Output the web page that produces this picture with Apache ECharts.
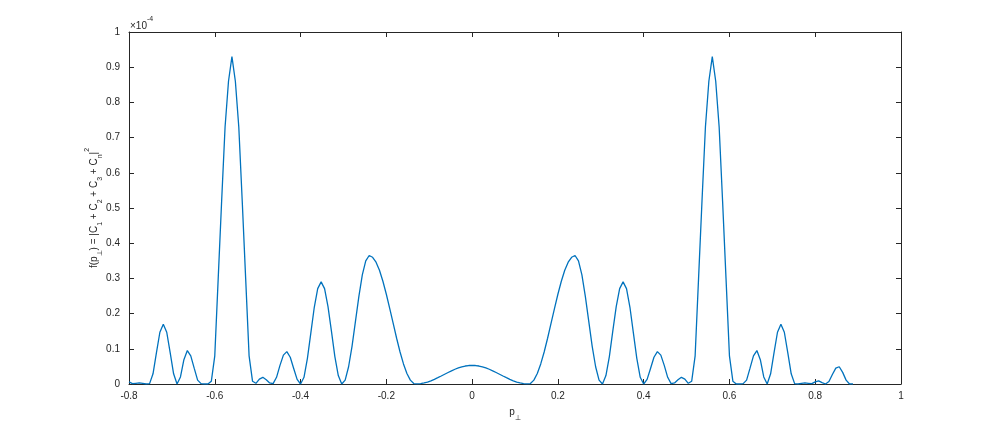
<!DOCTYPE html>
<html>
<head>
<meta charset="utf-8">
<script src="https://cdn.jsdelivr.net/npm/echarts@6/dist/echarts.min.js"></script>
<style>
  html, body { margin: 0; padding: 0; background: #fff; }
  #chart { width: 996px; height: 432px; }
</style>
</head>
<body>
<div id="chart"></div>
<script>
  // sampling of p_perp: p = pStart + i * pStep
  const pStart = -0.8
  const pStep = 0.008

  // f(p) in units of 1e-4, p from -0.800 to -0.008
  const fNegative = [
    0.006, 0.001, 0.002, 0.003, 0.002, 0.000, 0.001, 0.029, 0.089, 0.147,
    0.170, 0.147, 0.089, 0.029, 0.000, 0.020, 0.069, 0.095, 0.080, 0.045,
    0.011, 0.001, 0.000, 0.000, 0.008, 0.080, 0.300, 0.520, 0.730, 0.860,
    0.930, 0.860, 0.730, 0.520, 0.300, 0.080, 0.008, 0.002, 0.014, 0.019,
    0.012, 0.003, 0.001, 0.019, 0.053, 0.082, 0.092, 0.076, 0.044, 0.013,
    0.000, 0.019, 0.073, 0.145, 0.218, 0.271, 0.290, 0.271, 0.220, 0.150,
    0.078, 0.024, 0.000, 0.011, 0.049, 0.107, 0.178, 0.249, 0.310, 0.350,
    0.365, 0.360, 0.346, 0.323, 0.292, 0.255, 0.214, 0.172, 0.130, 0.091,
    0.057, 0.030, 0.011, 0.0012, 0.0001, 0.0011, 0.0029, 0.0056, 0.0091, 0.0133,
    0.0179, 0.0227, 0.0278, 0.0327, 0.0375, 0.0419, 0.0457, 0.0488, 0.0511, 0.0525
  ]

  // f(p) in units of 1e-4, p from 0 to 0.888
  const fPositive = [
    0.053, 0.0525, 0.0511, 0.0488, 0.0457, 0.0419, 0.0375, 0.0327, 0.0278, 0.0227,
    0.0179, 0.0133, 0.0091, 0.0056, 0.0029, 0.0011, 0.0001, 0.0012, 0.011, 0.030,
    0.057, 0.091, 0.130, 0.172, 0.214, 0.255, 0.292, 0.323, 0.346, 0.360,
    0.365, 0.350, 0.310, 0.249, 0.178, 0.107, 0.049, 0.011, 0.000, 0.024,
    0.078, 0.150, 0.220, 0.271, 0.290, 0.271, 0.218, 0.145, 0.073, 0.019,
    0.000, 0.013, 0.044, 0.076, 0.092, 0.082, 0.053, 0.019, 0.001, 0.003,
    0.012, 0.019, 0.014, 0.002, 0.008, 0.080, 0.300, 0.520, 0.730, 0.860,
    0.930, 0.860, 0.730, 0.520, 0.300, 0.080, 0.008, 0.000, 0.000, 0.001,
    0.011, 0.045, 0.080, 0.095, 0.069, 0.020, 0.000, 0.029, 0.089, 0.147,
    0.170, 0.147, 0.089, 0.029, 0.001, 0.000, 0.002, 0.003, 0.002, 0.001,
    0.006, 0.009, 0.004, 0.000, 0.007, 0.027, 0.045, 0.049, 0.033, 0.011,
    0.000, 0.000
  ]

  // axis ranges / ticks
  const xMin = -0.8, xMax = 1, xInterval = 0.2
  const yMin = 0, yMax = 1, yInterval = 0.1

  const axisColor = "#262626"
  const lineColor = "#0072BD"
  const font = "Liberation Sans, Arial, Helvetica, sans-serif"

  const fAll = fNegative.concat(fPositive)
  const points = fAll.map((v, i) => [+(pStart + i * pStep).toFixed(3), v])

  const baseAxis = {
    type: "value",
    axisLine: {show: true, onZero: false, lineStyle: {color: axisColor, width: 1}},
    axisTick: {show: true, inside: true, length: 5, lineStyle: {color: axisColor, width: 1}},
    splitLine: {show: false}
  }

  const subRich = {
    sub: {fontSize: 7, fontFamily: font, color: axisColor, lineHeight: 14, verticalAlign: "bottom"},
    sup: {fontSize: 7, fontFamily: font, color: axisColor, lineHeight: 14, verticalAlign: "top"}
  }

  let myChart = echarts.init(document.getElementById("chart"))
  myChart.setOption({
    animation: false,
    backgroundColor: "#fff",
    grid: {left: 129, right: 95, top: 32, bottom: 48},
    xAxis: [
      Object.assign({}, baseAxis, {
        min: xMin, max: xMax, interval: xInterval,
        position: "bottom",
        axisLabel: {color: axisColor, fontSize: 10, fontFamily: font, margin: 7, showMinLabel: true, showMaxLabel: true},
        name: "p{sub|⊥}",
        nameLocation: "middle",
        nameGap: 18,
        nameMoveOverlap: false,
        nameTextStyle: {color: axisColor, fontSize: 10, fontFamily: font, lineHeight: 20, rich: subRich}
      }),
      Object.assign({}, baseAxis, {
        min: xMin, max: xMax, interval: xInterval,
        position: "top",
        axisLabel: {show: false}
      })
    ],
    yAxis: [
      Object.assign({}, baseAxis, {
        min: yMin, max: yMax, interval: yInterval,
        position: "left",
        axisLabel: {color: axisColor, fontSize: 10, fontFamily: font, margin: 9, showMinLabel: true, showMaxLabel: true},
        name: "f(p{sub|⊥}) = |C{sub|1} + C{sub|2} + C{sub|3} + C{sub|n}|{sup|2}",
        nameLocation: "middle",
        nameGap: 25,
        nameMoveOverlap: false,
        nameTextStyle: {color: axisColor, fontSize: 10, fontFamily: font, lineHeight: 20, rich: subRich}
      }),
      Object.assign({}, baseAxis, {
        min: yMin, max: yMax, interval: yInterval,
        position: "right",
        axisLabel: {show: false}
      })
    ],
    graphic: [
      {
        type: "text",
        left: 130,
        top: 16,
        style: {
          text: "×10{sup|-4}",
          fill: axisColor,
          fontSize: 10,
          fontFamily: font,
          lineHeight: 20,
          rich: {sup: {fontSize: 7, fontFamily: font, fill: axisColor, lineHeight: 12, verticalAlign: "top"}}
        }
      }
    ],
    series: [
      {
        type: "line",
        xAxisIndex: 0,
        yAxisIndex: 0,
        data: points,
        showSymbol: false,
        symbol: "none",
        smooth: false,
        clip: true,
        lineStyle: {color: lineColor, width: 1.3}
      }
    ]
  })
</script>
</body>
</html>
